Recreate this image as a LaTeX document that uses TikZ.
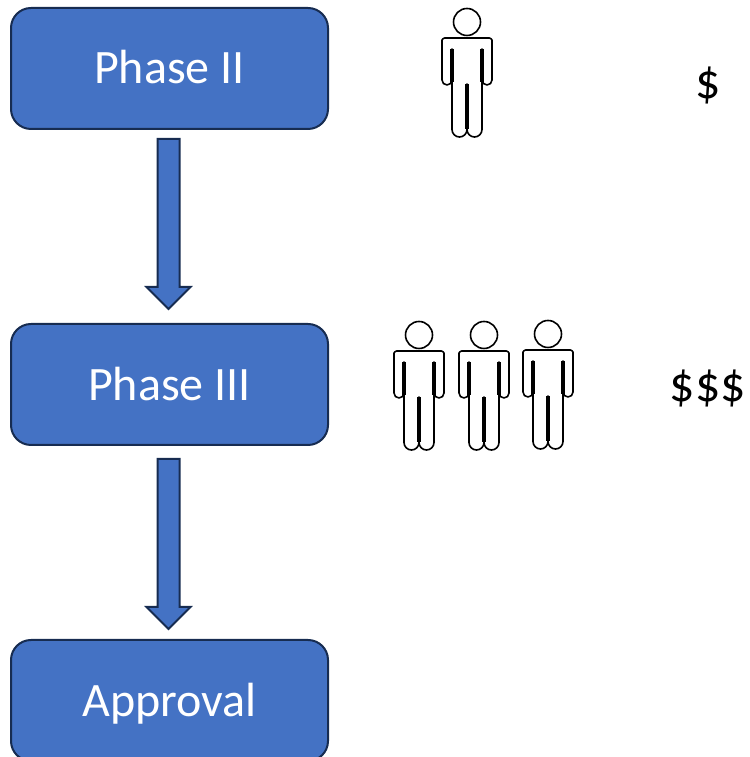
\documentclass[tikz,border=0pt]{standalone}
\usepackage{fontspec}
\setmainfont{Carlito}
\usetikzlibrary{positioning}

\definecolor{boxblue}{HTML}{4472C4}
\definecolor{boxline}{HTML}{172C51}

\begin{document}
\begin{tikzpicture}[x=1pt,y=1pt]

 \tikzset{
    phasebox/.style={draw=boxline, fill=boxblue, line width=2pt, rounded corners=20pt,
      minimum width=317pt, minimum height=121pt, inner sep=0pt, outer sep=0pt,
      text height=32pt, text depth=0pt,
      text=white, font=\fontsize{48}{56}\selectfont},
    cost/.style={inner sep=0pt, font=\fontsize{50}{60}\selectfont},
    blockarrow/.style 2 args={draw=boxline, fill=boxblue, line width=2pt, miter limit=10,
      to path={([shift={(-12,-#1)}]\tikztostart) -- ([shift={(-12,{#2+22})}]\tikztotarget)
        -- ([shift={(-23,{#2+22})}]\tikztotarget) -- ([shift={(-1,#2)}]\tikztotarget)
        -- ([shift={(21,{#2+22})}]\tikztotarget) -- ([shift={(10,{#2+22})}]\tikztotarget)
        -- ([shift={(10,-#1)}]\tikztostart) -- cycle}},
    person/.pic={
      \draw[line width=1.6pt] (0,0) circle (13.5);
      % outline of the figure
      \draw[line width=1.6pt, line join=round, fill=white] (-22.5,-16) -- (22.5,-16)
        to[out=-45,in=90] (25,-18) -- (25,-58) arc (0:-180:5) -- (15,-27)
        -- (15,-107.5) arc (0:-180:7.5) -- (0,-62) -- (0,-107.5) arc (0:-180:7.5)
        -- (-15,-27) -- (-15,-58) arc (0:-180:5) -- (-25,-18)
        to[out=90,in=-135] cycle;
      \draw[line width=3.4pt] (-15,-27) -- (-15,-60);
      \draw[line width=3.4pt] (15,-27) -- (15,-60);
      \draw[line width=3.4pt] (0,-62) -- (0,-107.5);
    },
  }

  \useasboundingbox (0,0) rectangle (749,757);
  \clip (0,0) rectangle (749,757);

  \node[phasebox, text height=30pt] (phasetwo) at (169.5,688.5) {Phase II};
  \node[phasebox, below=195pt of phasetwo] (phasethree) {Phase III};
  \node[phasebox, below=195pt of phasethree] (approval) {Approval};

  \draw[blockarrow={10}{15}] (phasetwo.south) to (phasethree.north);
  \draw[blockarrow={14}{11}] (phasethree.south) to (approval.north);

  \pic at (467,735) {person};
  \pic at (419,422) {person};
  \pic at (484,422) {person};
  \pic at (548,423) {person};

  \node[cost] (costtwo) at (708,672) {\$};
  \node[cost] (costthree) at (708,369) {\$\$\$};
\end{tikzpicture}
\end{document}
